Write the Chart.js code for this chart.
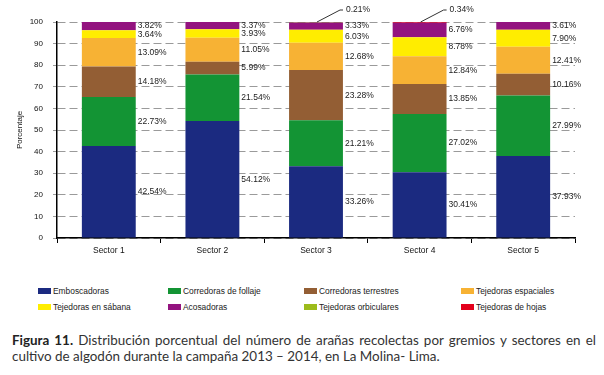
<!DOCTYPE html>
<html>
<head>
<meta charset="utf-8">
<script src="https://cdn.jsdelivr.net/npm/chart.js@4.4.1/dist/chart.umd.min.js"></script>
<style>
  body { margin: 0; background: #fff; width: 604px; height: 375px; overflow: hidden; position: relative; font-family: "Liberation Sans", Arial, sans-serif; }
  #wrap { position: absolute; left: 0; top: 0; width: 604px; height: 262px; }
  .leg { position: absolute; font-size: 8.4px; color: #222; white-space: nowrap; line-height: 10px; }
  .leg i { position: absolute; left: -15px; top: 2px; width: 13px; height: 6px; }
  #caption { position: absolute; left: 12px; top: 332px; width: 584px; font-family: Lato, "Open Sans", sans-serif; font-size: 15px; line-height: 16px; color: #333; }
  #caption div { white-space: nowrap; }
  #caption .l1 { text-align: justify; text-align-last: justify; }
  #caption b { color: #222; }
</style>
</head>
<body>
<div id="wrap"><canvas id="chart"></canvas></div>
<div id="legend"></div>
<div id="caption">
  <div class="l1" id="cap1"><b>Figura 11.</b> Distribución porcentual del número de arañas recolectas por gremios y sectores en el</div>
  <div id="cap2">cultivo de algodón durante la campaña 2013 – 2014, en La Molina- Lima.</div>
</div>
<script>
// datos (porcentaje por sector)
const sectores = ['Sector 1', 'Sector 2', 'Sector 3', 'Sector 4', 'Sector 5'];
const emboscadoras = [42.54, 54.12, 33.26, 30.41, 37.93];
const corredorasFollaje = [22.73, 21.54, 21.21, 27.02, 27.99];
const corredorasTerrestres = [14.18, 5.99, 23.28, 13.85, 10.16];
const tejedorasEspaciales = [13.09, 11.05, 12.68, 12.84, 12.41];
const tejedorasSabana = [3.64, 3.93, 6.03, 8.78, 7.90];
const acosadoras = [3.82, 3.37, 3.33, 6.76, 3.61];
const tejedorasOrbiculares = [0, 0, 0.21, 0, 0];
const tejedorasHojas = [0, 0, 0, 0.34, 0];
const yTicks = [0, 10, 20, 30, 40, 50, 60, 70, 80, 90, 100];

const series = [
  { label: 'Emboscadoras', data: emboscadoras, color: '#1b2a80' },
  { label: 'Corredoras de follaje', data: corredorasFollaje, color: '#139434' },
  { label: 'Corredoras terrestres', data: corredorasTerrestres, color: '#935e34' },
  { label: 'Tejedoras espaciales', data: tejedorasEspaciales, color: '#f7b234' },
  { label: 'Tejedoras en sábana', data: tejedorasSabana, color: '#ffed00' },
  { label: 'Acosadoras', data: acosadoras, color: '#93137f' },
  { label: 'Tejedoras orbiculares', data: tejedorasOrbiculares, color: '#9cbb1b' },
  { label: 'Tejedoras de hojas', data: tejedorasHojas, color: '#e3001b' }
];

const fontFam = '"Liberation Sans", Arial, sans-serif';

// etiquetas de porcentaje a la derecha de cada barra
const pctLabels = {
  id: 'pctLabels',
  afterDatasetsDraw(chart) {
    const ctx = chart.ctx;
    ctx.save();
    ctx.font = '8.5px ' + fontFam;
    ctx.fillStyle = '#222';
    ctx.textBaseline = 'middle';
    ctx.textAlign = 'left';
    chart.data.datasets.forEach((ds, di) => {
      const meta = chart.getDatasetMeta(di);
      meta.data.forEach((bar, i) => {
        const v = ds.data[i];
        if (!v) return;
        const txt = v.toFixed(2) + '%';
        if (v < 1) {
          // valor muy pequeño: linea guia hacia arriba
          ctx.strokeStyle = '#333';
          ctx.lineWidth = 1;
          ctx.beginPath();
          ctx.moveTo(bar.x + 1, bar.y);
          ctx.lineTo(bar.x + 24, bar.y - 12);
          ctx.lineTo(bar.x + 27, bar.y - 12);
          ctx.stroke();
          ctx.fillText(txt, bar.x + 30, bar.y - 12);
        } else {
          ctx.fillText(txt, bar.x + bar.width / 2 + 2, (bar.y + bar.base) / 2);
        }
      });
    });
    ctx.restore();
  }
};

const ctx = document.getElementById('chart').getContext('2d');
const chart = new Chart(ctx, {
  type: 'bar',
  data: {
    labels: sectores,
    datasets: series.map(s => ({
      label: s.label,
      data: s.data,
      backgroundColor: s.color,
      borderWidth: 0,
      barPercentage: 0.52,
      categoryPercentage: 1
    }))
  },
  options: {
    responsive: true,
    maintainAspectRatio: false,
    animation: false,
    layout: { padding: { left: 0, right: 29, top: 22, bottom: 0 } },
    plugins: {
      legend: { display: false },
      tooltip: { enabled: false }
    },
    scales: {
      x: {
        stacked: true,
        afterFit(scale) { scale.height = 24; },
        grid: { drawOnChartArea: false, tickLength: 5, tickColor: '#000', offset: true },
        border: { color: '#000', width: 1.5 },
        ticks: { color: '#111', font: { family: fontFam, size: 8.5 }, padding: 3 }
      },
      y: {
        stacked: true,
        min: 0,
        max: 100,
        afterFit(scale) { scale.width = 57; },
        afterBuildTicks(scale) { scale.ticks = yTicks.map(v => ({ value: v })); },
        grid: { color: '#9a9a9a', lineWidth: 1, tickLength: 4, tickColor: '#9a9a9a' },
        border: { color: '#000', width: 1.5, dash: [8, 4] },
        ticks: { color: '#111', font: { family: fontFam, size: 8 }, padding: 10 },
        title: { display: true, text: 'Porcentaje', color: '#111', font: { family: fontFam, size: 8 }, padding: { top: 15, bottom: 0 } }
      }
    }
  },
  plugins: [pctLabels]
});

// leyenda en dos filas y cuatro columnas
const legCols = [53, 183, 319, 476];
const legRows = [286, 302];
const legend = document.getElementById('legend');
series.forEach((s, i) => {
  const d = document.createElement('div');
  d.className = 'leg';
  d.style.left = legCols[i % 4] + 'px';
  d.style.top = legRows[Math.floor(i / 4)] + 'px';
  d.innerHTML = '<i style="background:' + s.color + '"></i>' + s.label;
  legend.appendChild(d);
});

// ajustar tamaño del pie de figura: 2da linea termina en x=440
const cap = document.getElementById('caption');
const cap2 = document.getElementById('cap2');
const span = document.createElement('span');
span.textContent = cap2.textContent;
cap2.textContent = '';
cap2.appendChild(span);
const w2 = span.getBoundingClientRect().width;
cap.style.fontSize = (15 * 428 / w2).toFixed(2) + 'px';
</script>
</body>
</html>
